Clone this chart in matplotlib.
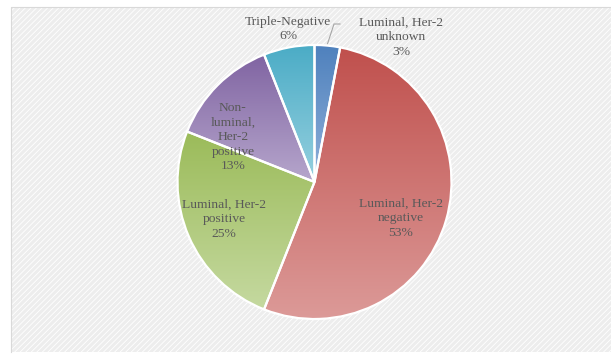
import numpy as np
import matplotlib
matplotlib.use("Agg")
import matplotlib.pyplot as plt
from matplotlib.patches import Rectangle
from matplotlib.colors import to_rgb

# Breast cancer molecular subtypes (share of cases, %)
categories = [
    "Luminal, Her-2\nunknown",
    "Luminal, Her-2\nnegative",
    "Luminal, Her-2\npositive",
    "Non-\nluminal,\nHer-2\npositive",
    "Triple-Negative",
]
shares = [3, 53, 25, 13, 6]

# (top, bottom) gradient colours for each slice
top_colors = ["#4f81bd", "#c0504d", "#9bbb59", "#8064a2", "#4bacc6"]
bottom_colors = ["#8fb0d9", "#dc9a98", "#c5d9a0", "#b6a6cc", "#96d0df"]

W, H = 611, 354
fig = plt.figure(figsize=(W / 100, H / 100), dpi=100)
ax = fig.add_axes([0, 0, 1, 1])
ax.set_xlim(0, W)
ax.set_ylim(0, H)
ax.axis("off")

# chart area: light grey with fine diagonal texture
plt.rcParams["hatch.linewidth"] = 0.6
ax.add_patch(Rectangle((11, 2), W - 11, H - 9, facecolor="#ededed",
                       edgecolor="white", hatch="//////", lw=0, zorder=0))
ax.plot([11, 11, W], [2, H - 7, H - 7], color="#d9d9d9", lw=0.8, zorder=1)

cx, cy, r = 314.5, 172.0, 137.0
wedges, _ = ax.pie(shares, startangle=90, counterclock=False,
                   center=(cx, cy), radius=r, frame=True,
                   wedgeprops=dict(edgecolor="white", linewidth=1.6))

for wdg, ct, cb in zip(wedges, top_colors, bottom_colors):
    wdg.set_facecolor("none")
    wdg.set_zorder(3)
    x0, y0, x1, y1 = wdg.get_path().get_extents().extents
    t = np.linspace(0, 1, 256)[:, None]
    a, b = np.array(to_rgb(cb)), np.array(to_rgb(ct))
    img = (a + (b - a) * t)[:, None, :]
    im = ax.imshow(img, extent=[x0, x1, y0, y1], origin="lower",
                   aspect="auto", interpolation="bilinear", zorder=2)
    im.set_clip_path(wdg)

ax.set_xlim(0, W)
ax.set_ylim(0, H)
ax.set_aspect("auto")

txt = dict(family="Liberation Serif", fontsize=9.7, color="#595959",
           ha="center", va="center", linespacing=1.3, zorder=5)
pct = [f"{s}%" for s in shares]

# label anchor points (pixels from top-left)
anchors = [(401, 37), (401, 218), (224, 219), (233, 137), (288, 29)]
for lab, p, (x, y) in zip(categories, pct, anchors):
    ax.text(x, H - y, f"{lab}\n{p}", **txt)

# leader line for the small outside slice
w0 = wedges[0]
mid = np.deg2rad((w0.theta1 + w0.theta2) / 2)
sx, sy = cx + (r + 2) * np.cos(mid), cy + (r + 2) * np.sin(mid)
ax.plot([sx, 334, 340], [sy, H - 24, H - 24], color="#a6a6a6", lw=0.8, zorder=4)

fig.savefig("out.png", dpi=100, facecolor="white")
